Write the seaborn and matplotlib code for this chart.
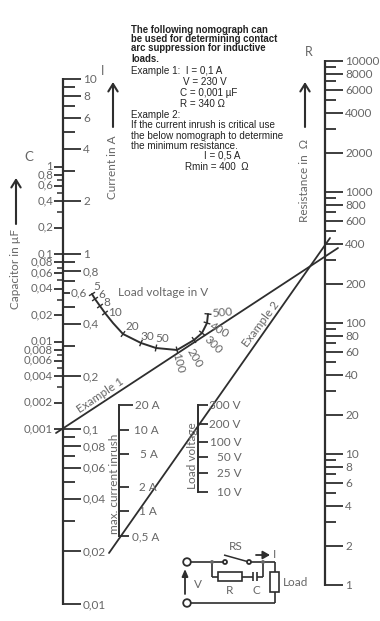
import numpy as np
import pandas as pd
import matplotlib
matplotlib.use("Agg")
import matplotlib.pyplot as plt
from matplotlib.patches import Rectangle, Circle
import seaborn as sns

# ---------- values ----------
current_major = [10, 8, 6, 4, 2, 1, 0.8, 0.6, 0.4, 0.2, 0.1, 0.08, 0.06, 0.04, 0.02, 0.01]
current_minor = [9, 7, 5, 3, 0.9, 0.7, 0.5, 0.3, 0.09, 0.07, 0.05, 0.03]
current_labels = ["10", "8", "6", "4", "2", "1", "0,8", "0,6", "0,4", "0,2", "0,1", "0,08", "0,06", "0,04", "0,02", "0,01"]

cap_major = [1, 0.8, 0.6, 0.4, 0.2, 0.1, 0.08, 0.06, 0.04, 0.02, 0.01, 0.008, 0.006, 0.004, 0.002, 0.001]
cap_minor = [0.7, 0.5, 0.3, 0.07, 0.05, 0.03, 0.007, 0.005, 0.003]
cap_labels = ["1", "0,8", "0,6", "0,4", "0,2", "0,1", "0,08", "0,06", "0,04", "0,02", "0,01", "0,008", "0,006", "0,004", "0,002", "0,001"]

res_major = [10000, 8000, 6000, 4000, 2000, 1000, 800, 600, 400, 200, 100, 80, 60, 40, 20, 10, 8, 6, 4, 2, 1]
res_minor = [9000, 7000, 5000, 3000, 900, 700, 500, 300, 90, 70, 50, 30, 9, 7, 5, 3]

inrush_values = [20, 10, 5, 2, 1, 0.5]
inrush_labels = ["20 A", "10 A", "5 A", "2 A", "1 A", "0,5 A"]

voltage_labels = ["300 V", "200 V", "100 V", "50 V", "25 V", "10 V"]
voltage_rows = [405, 424, 442, 457, 473, 492]

curve_labels = ["5", "6", "8", "10", "20", "30", "50", "100", "200", "300", "400", "500"]
curve_u = [92, 95, 100, 105, 113, 123, 141, 156, 177, 194, 202, 207, 208]
curve_v = [294, 299, 306, 313, 323, 334, 343, 348, 350, 340, 333, 323, 314]
curve_tick_index = [0, 1, 2, 3, 5, 6, 7, 8, 9, 10, 11, 12]

example1_u, example1_v = [56, 338], [433, 248]
example2_u, example2_v = [109, 330], [553, 238]

GRAY = "#666666"
DARK = "#2e2e2e"
SIZE = 8.5

sns.set_theme(style="white")
plt.rcParams["font.family"] = ["Lato", "DejaVu Sans"]

fig = plt.figure(figsize=(3.8, 6.21), dpi=100)
ax = fig.add_axes([0, 0, 1, 1])
ax.set_xlim(0, 380)
ax.set_ylim(621, 0)
ax.axis("off")


def log_row(v, top_value, top_row, per_decade):
    return top_row + per_decade * np.log10(top_value / np.asarray(v, dtype=float))


def seg(x0, y0, x1, y1, lw=1.2, color=DARK):
    ax.plot([x0, x1], [y0, y1], color=color, lw=lw, solid_capstyle="butt")


def label(x, y, s, ha="left", size=SIZE, rot=0, color=GRAY, **kw):
    ax.text(x, y, s, ha=ha, va="center", fontsize=size, rotation=rot, color=color, **kw)


def up_arrow(x, y_tail, y_head, lw=1.5):
    ax.annotate("", xy=(x, y_head), xytext=(x, y_tail),
                arrowprops=dict(arrowstyle="->,head_length=0.45,head_width=0.28", lw=lw,
                                color=DARK, shrinkA=0, shrinkB=0))


# I / C axis
AX_I = 63
rows_i = log_row(current_major, 10, 79, 175)
seg(AX_I, 78.4, AX_I, 604.6, lw=1.6)
for r, t in zip(rows_i, current_labels):
    short = t == "0,6"
    seg(AX_I, r, 70 if short else 81, r, lw=1.3)
    label(71 if short else 83, r + 0.5, t)
for r in log_row(current_minor, 10, 79, 175):
    seg(AX_I, r, 75, r, lw=1.3)

rows_c = log_row(cap_major, 1, 166.5, 87.5)
for r, t in zip(rows_c, cap_labels):
    seg(54, r, AX_I, r, lw=1.3)
    label(53, r - 0.5, t, ha="right", size=8.2)
for r in log_row(cap_minor, 1, 166.5, 87.5):
    seg(57, r, AX_I, r, lw=1.1)

# R axis
AX_R = 325
rows_r = log_row(res_major, 10000, 61, 131)
seg(AX_R, 60.4, AX_R, 585.6, lw=1.6)
for r, t in zip(rows_r, res_major):
    seg(AX_R, r, 343, r, lw=1.3)
    label(345, r + 0.5, str(t))
for r in log_row(res_minor, 10000, 61, 131):
    seg(AX_R, r, 336, r, lw=1.3)

# inrush scale
AX_A = 119
rows_a = log_row(inrush_values, 20, 405, 81.8)
seg(AX_A, 404.4, AX_A, 536.6, lw=1.4)
for r, t, xt, xl in zip(rows_a, inrush_labels, [133, 129, 129, 129, 129, 129], [135, 134, 140, 139, 139, 132]):
    seg(AX_A, r, xt, r, lw=1.3)
    label(xl, r + 0.5, t)

# load voltage scale
AX_V = 198
seg(AX_V, 404.4, AX_V, 492.6, lw=1.4)
for r, t, xt, xl in zip(voltage_rows, voltage_labels, [208, 208, 208, 208, 208, 208], [209, 209, 210, 217, 217, 217]):
    seg(AX_V, r, xt, r, lw=1.3)
    label(xl, r + 0.5, t)

# voltage curve through the library
curve = pd.DataFrame({"u": curve_u, "v": curve_v})
sns.lineplot(data=curve, x="u", y="v", sort=False, ax=ax, color=DARK, lw=1.4, legend=False)
cu, cv = np.array(curve_u, float), np.array(curve_v, float)
du, dv = np.gradient(cu), np.gradient(cv)
for i in curve_tick_index:
    n = np.hypot(du[i], dv[i])
    nx, ny = -dv[i] / n, du[i] / n
    seg(cu[i] - 3.5 * nx, cv[i] - 3.5 * ny, cu[i] + 3.5 * nx, cv[i] + 3.5 * ny, lw=1.0)

curve_text = [(97, 287, 0), (102, 294, 0), (107, 303, 0), (115, 312, 0), (132, 327, 0), (147, 336, 0),
              (162, 339, 0), (178, 363, -75), (195, 358, -60), (213, 345, -45), (220, 330, -30), (222, 313, 5)]
for (x, y, rot), t in zip(curve_text, curve_labels):
    ax.text(x, y, t, ha="center", va="center", rotation=rot, fontsize=SIZE, color=GRAY)
ax.text(163, 292, "Load voltage in V", ha="center", va="center", fontsize=SIZE, color=GRAY)

# example lines
for u, v in ((example1_u, example1_v), (example2_u, example2_v)):
    sns.lineplot(x=u, y=v, sort=False, ax=ax, color=DARK, lw=1.3, legend=False)
ax.text(100, 395, "Example 1", ha="center", va="center", rotation=34, fontsize=SIZE, color=GRAY, rotation_mode="anchor")
ax.text(261, 324, "Example 2", ha="center", va="center", rotation=53, fontsize=SIZE, color=GRAY, rotation_mode="anchor")

# axis titles and arrows
ax.text(103, 71, "I", ha="center", va="center", fontsize=9, color=GRAY)
ax.text(29, 157, "C", ha="center", va="center", fontsize=9.5, color=GRAY)
ax.text(309, 52, "R", ha="center", va="center", fontsize=9, color=GRAY)
ax.text(113, 167, "Current in A", ha="center", va="center", rotation=90, fontsize=SIZE, color=GRAY)
ax.text(16, 269, "Capacitor in µF", ha="center", va="center", rotation=90, fontsize=SIZE, color=GRAY)
ax.text(305, 180, "Resistance in  Ω", ha="center", va="center", rotation=90, fontsize=SIZE, color=GRAY)
ax.text(114, 484, "max. current inrush", ha="center", va="center", rotation=90, fontsize=SIZE, color=GRAY)
ax.text(192, 456, "Load voltage", ha="center", va="center", rotation=90, fontsize=SIZE, color=GRAY)
up_arrow(113, 127, 82)
up_arrow(305, 127, 82)
up_arrow(16, 224, 178)

# note block
note = [(131, 30, "The following nomograph can", True), (131, 39, "be used for determining contact", True),
        (131, 48, "arc suppression for inductive", True), (131, 59, "loads.", True),
        (131, 71, "Example 1:  I = 0,1 A", False), (183, 82, "V = 230 V", False),
        (180, 93, "C = 0,001 µF", False), (180, 104, "R = 340 Ω", False),
        (131, 115, "Example 2:", False), (131, 125, "If the current inrush is critical use", False),
        (131, 136, "the below nomograph to determine", False), (131, 146, "the minimum resistance.", False),
        (204, 156, "I = 0,5 A", False), (185, 167, "Rmin = 400  Ω", False)]
for x, y, t, bold in note:
    ax.text(x, y, t, ha="left", va="center", fontsize=6.9 if bold else 7.1, color="#222222",
            family="Liberation Sans", fontweight="bold" if bold else "normal")

# circuit diagram
C = DARK
w = 1.2
seg(191, 562, 223, 562, w, C)
seg(251, 562, 275, 562, w, C)
seg(275, 562, 275, 572, w, C)
seg(275, 592, 275, 603, w, C)
seg(191, 603, 275, 603, w, C)
seg(212, 562, 212, 577, w, C)
seg(212, 577, 218, 577, w, C)
seg(242, 577, 252.5, 577, w, C)
seg(256.5, 577, 263, 577, w, C)
seg(263, 577, 263, 562, w, C)
seg(252.5, 572, 252.5, 581, w, C)
seg(256.5, 572, 256.5, 581, w, C)
seg(224, 555, 249, 562, 1.1, C)
ax.add_patch(Rectangle((218, 572), 24, 9, fill=False, ec=C, lw=w))
ax.add_patch(Rectangle((270, 572), 9, 20, fill=False, ec=C, lw=w))
for x, y, r in [(187, 562, 3.8), (187, 603, 3.8), (225, 562, 2), (249, 562, 2)]:
    ax.add_patch(Circle((x, y), r, fc="white", ec=C, lw=1.3, zorder=3))
for x in (212, 263):
    ax.add_patch(Circle((x, 562), 1.6, fc=GRAY, ec=GRAY, lw=0.5, zorder=3))
ax.annotate("", xy=(270, 555), xytext=(256, 555),
            arrowprops=dict(arrowstyle="-|>,head_length=0.35,head_width=0.2", lw=1.3, color=C, shrinkA=0, shrinkB=0))
ax.annotate("", xy=(185, 569), xytext=(185, 594),
            arrowprops=dict(arrowstyle="-|>,head_length=0.35,head_width=0.15", lw=1.3, color=C, shrinkA=0, shrinkB=0))
for x, y, t in [(236, 546, "RS"), (274, 555, "I"), (198, 584, "V"), (230, 590, "R"), (256, 590, "C"), (296, 583, "Load")]:
    ax.text(x, y, t, ha="center", va="center", fontsize=SIZE, color=GRAY)

fig.savefig("out.png", dpi=100, facecolor="white")
